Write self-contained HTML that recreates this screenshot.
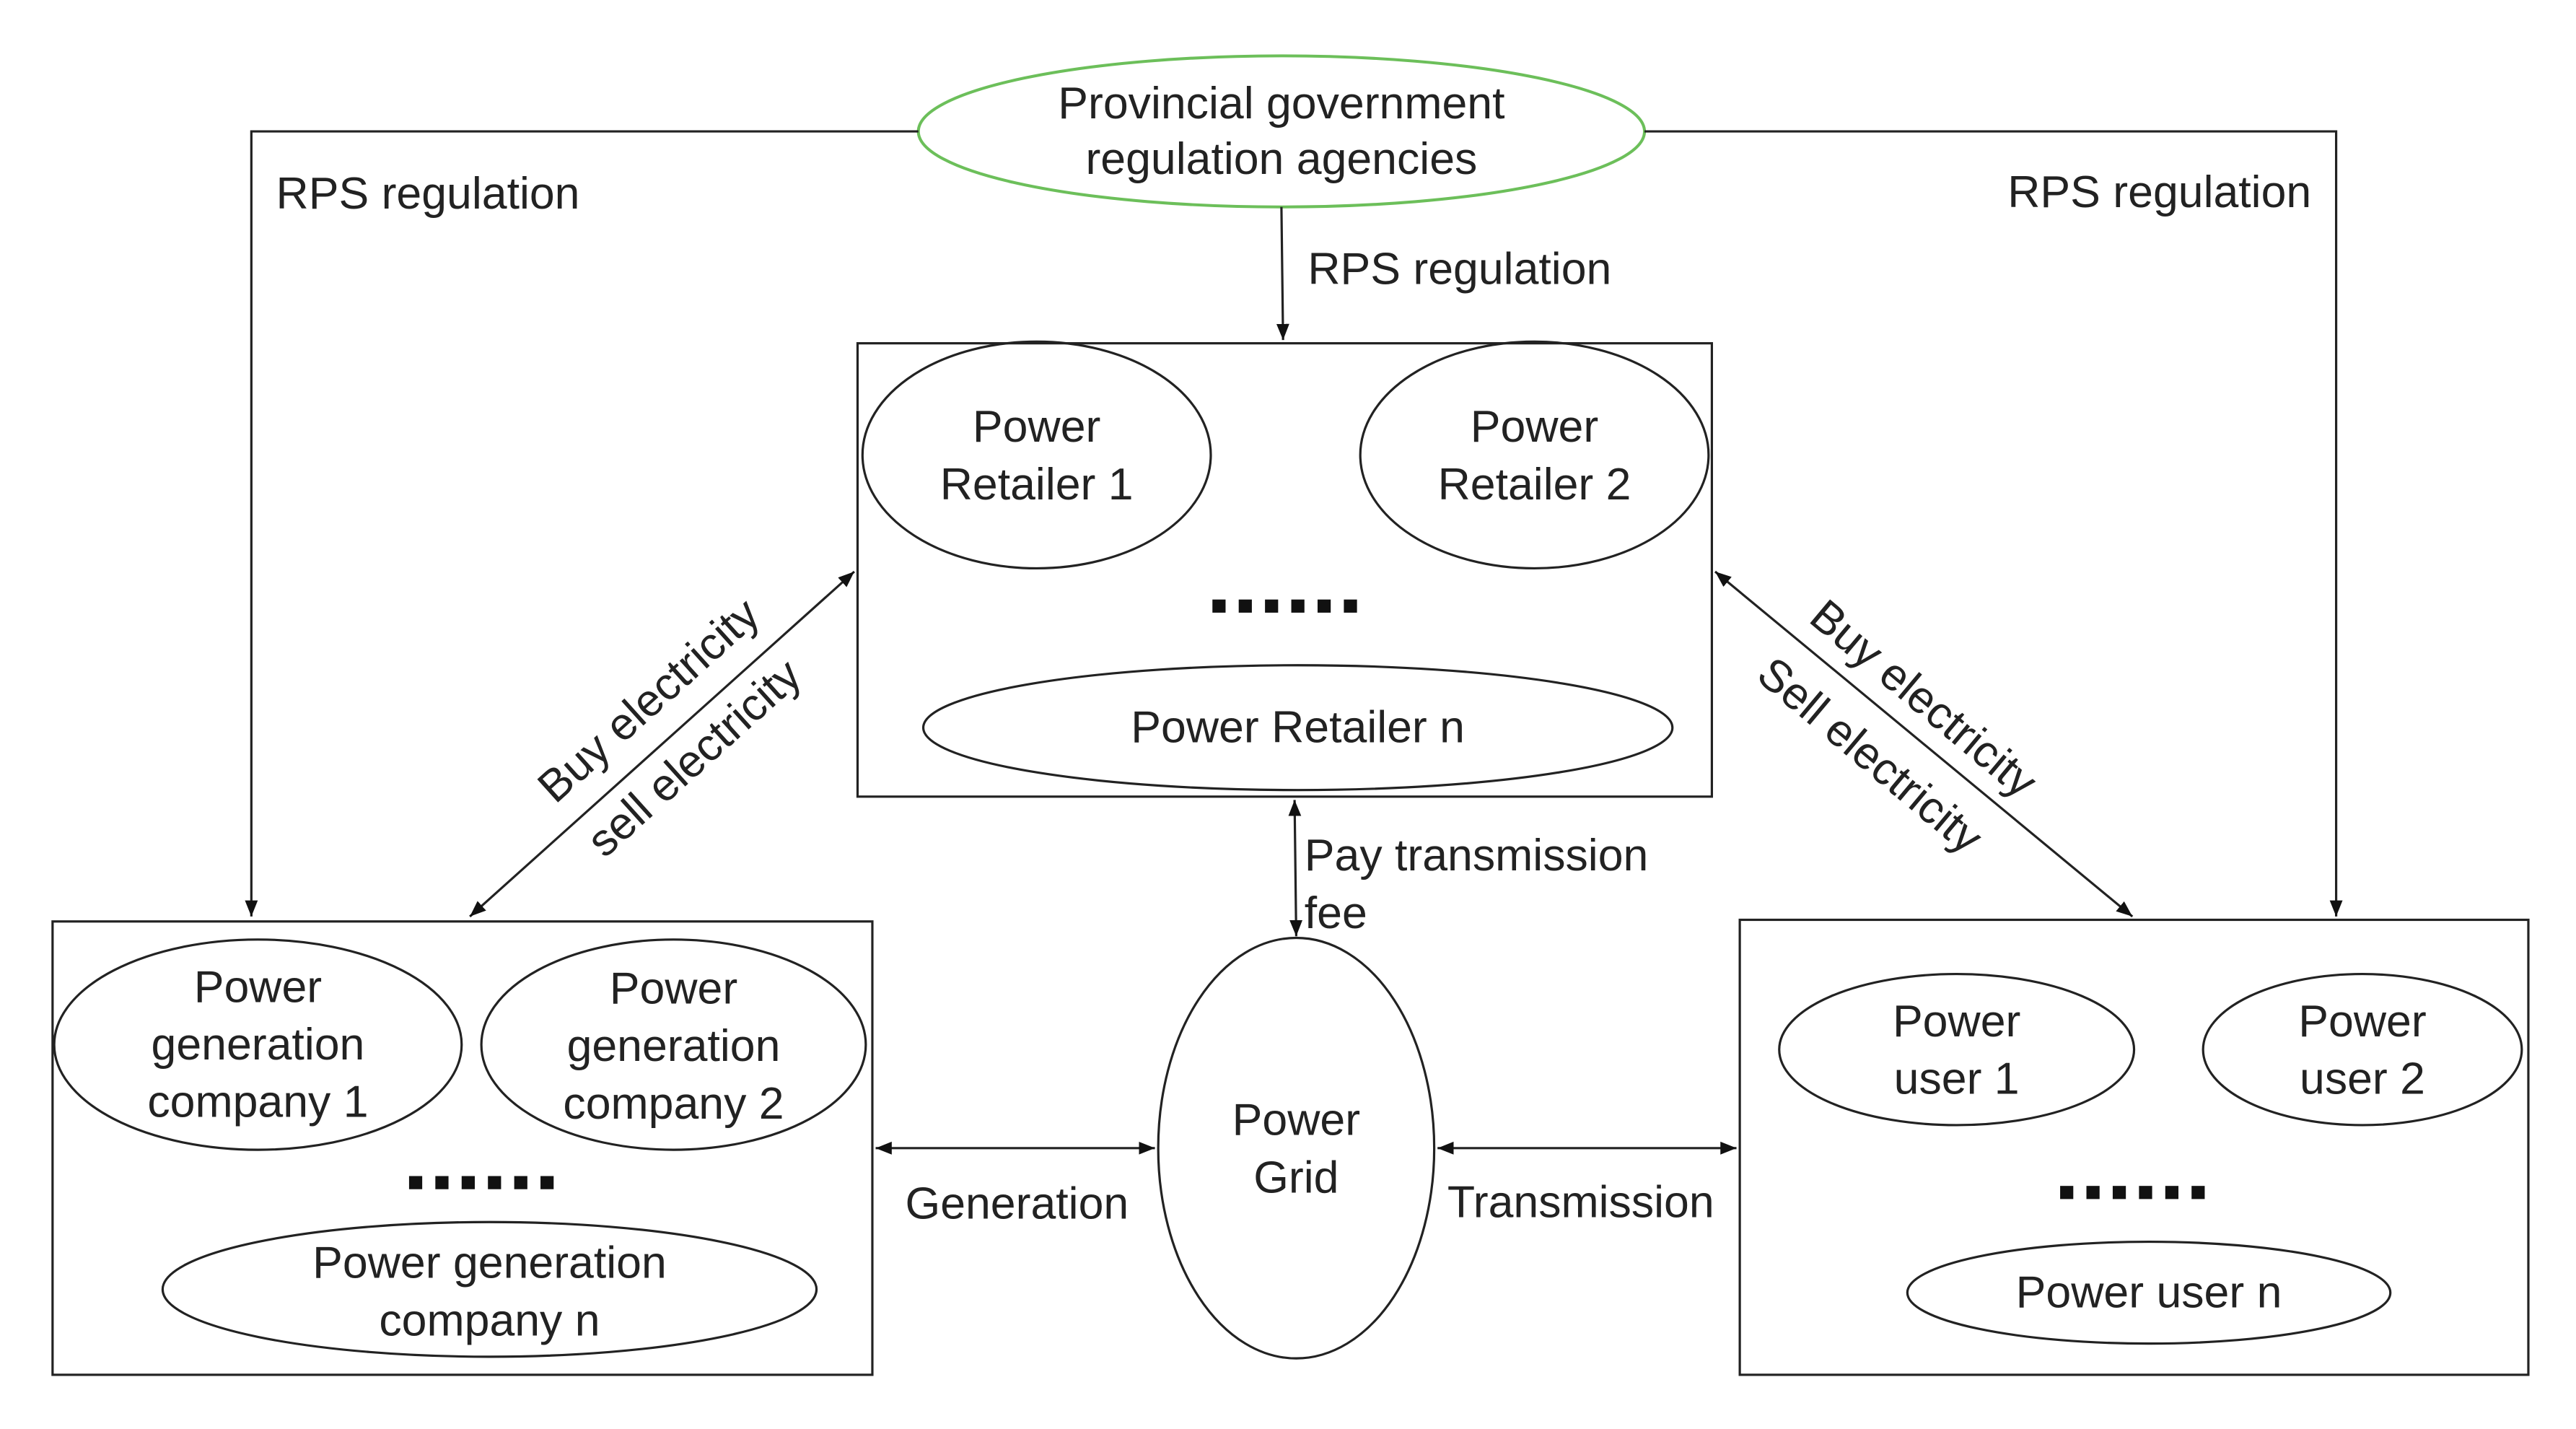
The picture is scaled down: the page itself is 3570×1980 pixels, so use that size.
<!DOCTYPE html>
<html><head><style>html,body{margin:0;padding:0;background:#fff}svg{display:block}</style></head>
<body>
<svg width="3570" height="1980" viewBox="0 0 1568 870" preserveAspectRatio="none" xmlns="http://www.w3.org/2000/svg" font-family="Liberation Sans, sans-serif" font-size="27.5" fill="#222">
<defs><marker id="a" viewBox="0 0 10 10" refX="10" refY="5" markerWidth="7" markerHeight="7" orient="auto-start-reverse"><path d="M0,1 L10,5 L0,9 z" fill="#111"/></marker></defs>
<g stroke="#222" stroke-width="1.4" fill="none">
<ellipse cx="780" cy="80" rx="221" ry="46" stroke="#6cbf5a" stroke-width="1.8"/>
<polyline points="559,80 153,80 153,558" marker-end="url(#a)"/>
<polyline points="1001,80 1422,80 1422,558" marker-end="url(#a)"/>
<line x1="780" y1="126" x2="781" y2="207" marker-end="url(#a)"/>
<rect x="522" y="209" width="520" height="276"/>
<ellipse cx="631" cy="277" rx="106" ry="69"/>
<ellipse cx="934" cy="277" rx="106" ry="69"/>
<ellipse cx="790" cy="443" rx="228" ry="38"/>
<rect x="32" y="561" width="499" height="276"/>
<ellipse cx="157" cy="636" rx="124" ry="64"/>
<ellipse cx="410" cy="636" rx="117" ry="64"/>
<ellipse cx="298" cy="785" rx="199" ry="41"/>
<rect x="1059" y="560" width="480" height="277"/>
<ellipse cx="1191" cy="639" rx="108" ry="46"/>
<ellipse cx="1438" cy="639" rx="97" ry="46"/>
<ellipse cx="1308" cy="787" rx="147" ry="31"/>
<ellipse cx="789" cy="699" rx="84" ry="128"/>
<line x1="286" y1="558" x2="520" y2="348" marker-start="url(#a)" marker-end="url(#a)"/>
<line x1="1044" y1="348" x2="1298" y2="558" marker-start="url(#a)" marker-end="url(#a)"/>
<line x1="788" y1="487" x2="789" y2="570" marker-start="url(#a)" marker-end="url(#a)"/>
<line x1="533" y1="699" x2="703" y2="699" marker-start="url(#a)" marker-end="url(#a)"/>
<line x1="875" y1="699" x2="1057" y2="699" marker-start="url(#a)" marker-end="url(#a)"/>
</g>
<g text-anchor="middle">
<text x="780" y="72">Provincial government</text>
<text x="780" y="106">regulation agencies</text>
<text x="631" y="269">Power</text><text x="631" y="304">Retailer 1</text>
<text x="934" y="269">Power</text><text x="934" y="304">Retailer 2</text>
<text x="790" y="452">Power Retailer n</text>
<text x="157" y="610">Power</text><text x="157" y="645">generation</text><text x="157" y="680">company 1</text>
<text x="410" y="611">Power</text><text x="410" y="646">generation</text><text x="410" y="681">company 2</text>
<text x="298" y="778">Power generation</text><text x="298" y="813">company n</text>
<text x="1191" y="631">Power</text><text x="1191" y="666">user 1</text>
<text x="1438" y="631">Power</text><text x="1438" y="666">user 2</text>
<text x="1308" y="796">Power user n</text>
<text x="789" y="691">Power</text><text x="789" y="726">Grid</text>
</g>
<text x="168" y="127">RPS regulation</text>
<text x="1222" y="126">RPS regulation</text>
<text x="796" y="173">RPS regulation</text>
<text x="794" y="530">Pay transmission</text>
<text x="794" y="565">fee</text>
<text x="551" y="742">Generation</text>
<text x="881" y="741">Transmission</text>
<text transform="translate(338,490) rotate(-42)">Buy electricity</text>
<text transform="translate(368,523) rotate(-42)">sell electricity</text>
<text transform="translate(1100,378) rotate(40)">Buy electricity</text>
<text transform="translate(1068,413) rotate(40)">Sell electricity</text>
<g fill="#111">
<rect x="738" y="365" width="8" height="8"/><rect x="754" y="365" width="8" height="8"/><rect x="770" y="365" width="8" height="8"/><rect x="786" y="365" width="8" height="8"/><rect x="802" y="365" width="8" height="8"/><rect x="818" y="365" width="8" height="8"/>
<rect x="249" y="716" width="8" height="8"/><rect x="265" y="716" width="8" height="8"/><rect x="281" y="716" width="8" height="8"/><rect x="297" y="716" width="8" height="8"/><rect x="313" y="716" width="8" height="8"/><rect x="329" y="716" width="8" height="8"/>
<rect x="1254" y="722" width="8" height="8"/><rect x="1270" y="722" width="8" height="8"/><rect x="1286" y="722" width="8" height="8"/><rect x="1302" y="722" width="8" height="8"/><rect x="1318" y="722" width="8" height="8"/><rect x="1334" y="722" width="8" height="8"/>
</g>
</svg>
</body></html>
